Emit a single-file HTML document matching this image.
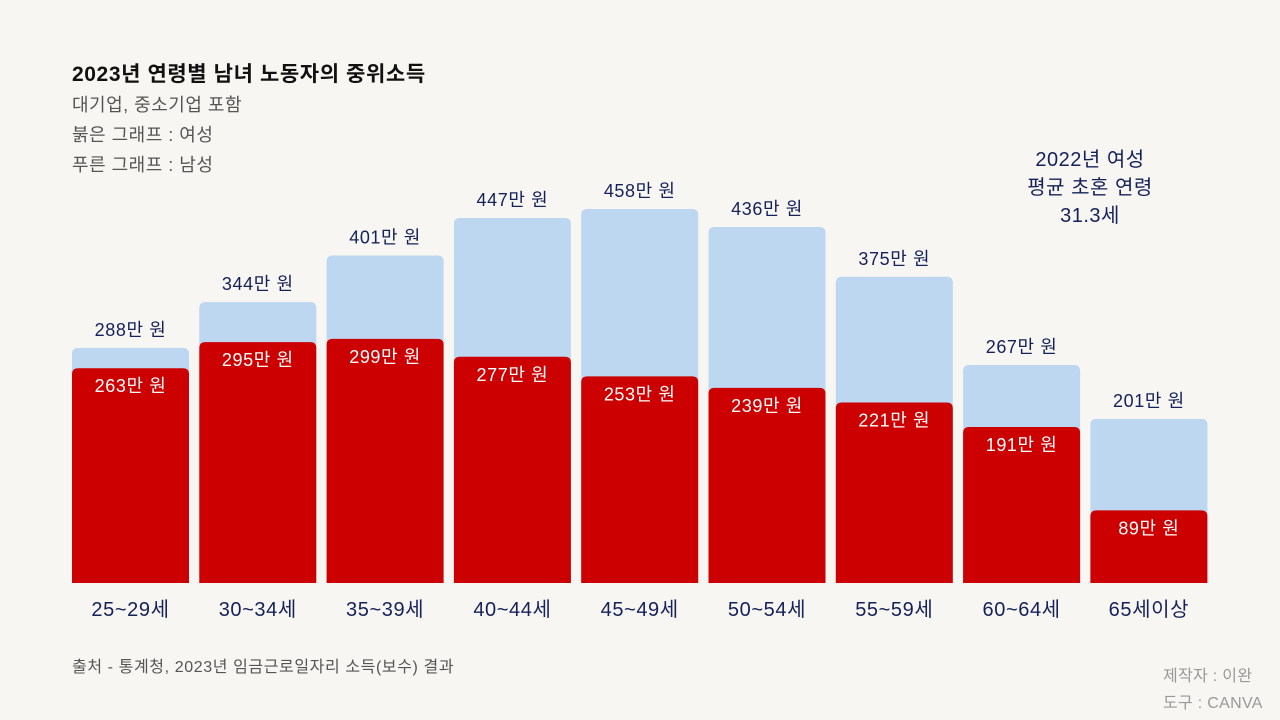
<!DOCTYPE html>
<html><head><meta charset="utf-8">
<style>
body{margin:0;width:1280px;height:720px;background:#f8f6f2;font-family:"Liberation Sans","Noto Sans CJK KR",sans-serif;overflow:hidden;position:relative}
.t{position:absolute;white-space:nowrap}
</style></head><body>
<div class="t" style="left:72px;top:58px;font-size:21px;letter-spacing:0.6px;font-weight:bold;color:#111">2023년 연령별 남녀 노동자의 중위소득</div>
<div class="t" style="left:72px;top:91px;font-size:18px;letter-spacing:0.5px;color:#555">대기업, 중소기업 포함</div>
<div class="t" style="left:72px;top:121px;font-size:18px;letter-spacing:0.5px;color:#555">붉은 그래프 : 여성</div>
<div class="t" style="left:72px;top:151px;font-size:18px;letter-spacing:0.5px;color:#555">푸른 그래프 : 남성</div>
<div class="t" style="left:985px;top:146px;width:210px;text-align:center;font-size:20px;line-height:28px;letter-spacing:0.5px;color:#14215a">2022년 여성<br>평균 초혼 연령<br>31.3세</div>
<div class="t" style="left:72px;top:653px;font-size:16px;letter-spacing:0.6px;color:#555">출처 - 통계청, 2023년 임금근로일자리 소득(보수) 결과</div>
<div class="t" style="left:1163px;top:663px;font-size:16px;line-height:27px;letter-spacing:0.3px;color:#999">제작자 : 이완<br>도구 : CANVA</div>
<svg id="chart" width="1280" height="720" style="position:absolute;left:0;top:0"></svg>
<script>
const categories=["25~29세","30~34세","35~39세","40~44세","45~49세","50~54세","55~59세","60~64세","65세이상"];
const maleValues=[288,344,401,447,458,436,375,267,201];
const femaleValues=[263,295,299,277,253,239,221,191,89];
const svg=document.getElementById('chart');
const NS='http://www.w3.org/2000/svg';
const base=583, scale=374/458, x0=72, step=127.3, bw=117;
function y(v){return base-v*scale;}
function x(i){return x0+i*step;}
function barPath(xx,yy,w,h,r){return `M${xx},${yy+h}V${yy+r}Q${xx},${yy} ${xx+r},${yy}H${xx+w-r}Q${xx+w},${yy} ${xx+w},${yy+r}V${yy+h}Z`;}
function mk(tag,attrs,txt){const e=document.createElementNS(NS,tag);for(const k in attrs)e.setAttribute(k,attrs[k]);if(txt)e.textContent=txt;svg.appendChild(e);return e;}
categories.forEach((c,i)=>{
  const xm=x(i)+bw/2;
  const m=mk('path',{d:barPath(x(i),y(maleValues[i]),bw,base-y(maleValues[i]),6),fill:'#bdd7f0'});
  
  
  const f=mk('path',{d:barPath(x(i),y(femaleValues[i]),bw,base-y(femaleValues[i]),6),fill:'#cc0000'});
  
  
  const ml=mk('text',{x:xm,y:y(maleValues[i])-12,'text-anchor':'middle','font-size':18,'letter-spacing':0.6,fill:'#14215a'},maleValues[i]+'만 원');
  
  
  const fl=mk('text',{x:xm,y:y(femaleValues[i])+24,'text-anchor':'middle','font-size':18,'letter-spacing':0.6,fill:'#fff'},femaleValues[i]+'만 원');
  
  
  const xl=mk('text',{x:xm,y:616,'text-anchor':'middle','font-size':20,'letter-spacing':0.6,fill:'#14215a'},c);
  
  
});
</script>
</body></html>
